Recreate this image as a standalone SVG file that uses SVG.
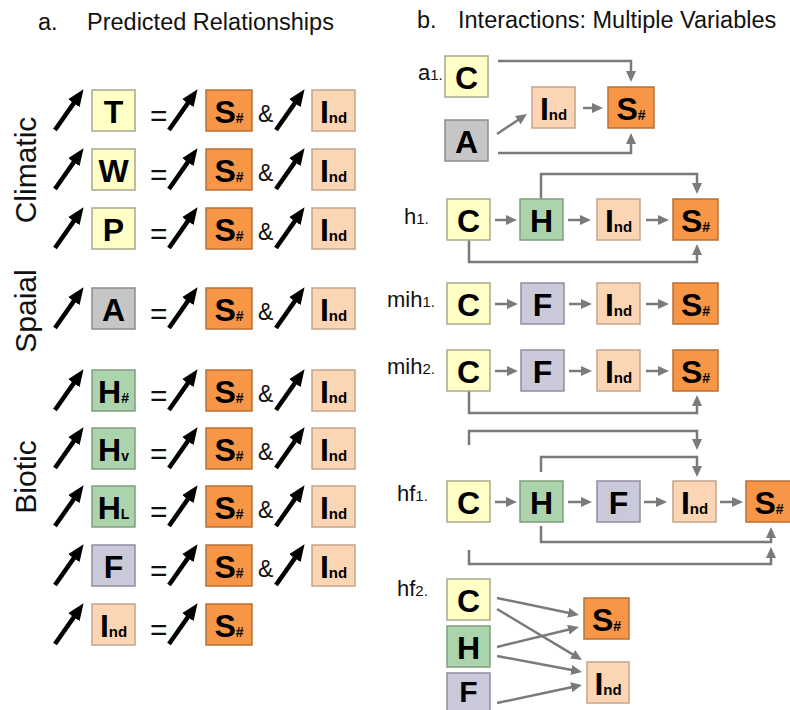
<svg xmlns="http://www.w3.org/2000/svg" width="790" height="710" viewBox="0 0 790 710">
<style>
.y{fill:#FFFFC6;stroke:#A8A88E;stroke-width:1.5}
.g{fill:#C6C6C6;stroke:#8C8C8C;stroke-width:1.5}
.o{fill:#F79646;stroke:#B96F36;stroke-width:1.5}
.p{fill:#FCD5B4;stroke:#C4A48A;stroke-width:1.5}
.h{fill:#ACD4AC;stroke:#7E9E7E;stroke-width:1.5}
.f{fill:#C9C9DA;stroke:#8E8E9E;stroke-width:1.5}
.L{font-family:"Liberation Sans",Arial,sans-serif;font-weight:bold;font-size:32px;text-anchor:middle;fill:#000}
.s{font-size:14px}
.nd{font-size:15px}
.t{font-family:"Liberation Sans",Arial,sans-serif;fill:#111}
.ti{font-size:23.5px}
.eq{font-size:30px}
.amp{font-size:23px}
.cat{font-size:30px;text-anchor:middle}
.lab{font-size:22px}
.lab tspan{font-size:15px}
.c{fill:none;stroke:#7A7A7A;stroke-width:2.5;marker-end:url(#mg)}
</style>
<defs>
<marker id="mb" markerWidth="17" markerHeight="14" refX="8" refY="7" orient="auto" markerUnits="userSpaceOnUse"><path d="M0,0 L17,7 L0,14 z" fill="#000"/></marker>
<marker id="mg" markerWidth="11" markerHeight="10" refX="6" refY="5" orient="auto" markerUnits="userSpaceOnUse"><path d="M0,0 L11,5 L0,10 z" fill="#7A7A7A"/></marker>
<path id="ba" d="M0,40 L23.4,6.6" stroke="#000" stroke-width="4.5" fill="none" marker-end="url(#mb)"/>
</defs>
<rect width="790" height="710" fill="#fff"/>

<!-- Titles -->
<text class="t ti" x="38" y="30">a.</text>
<text class="t ti" x="87" y="30">Predicted Relationships</text>
<text class="t ti" x="417" y="28">b.</text>
<text class="t ti" x="458" y="28">Interactions: Multiple Variables</text>

<!-- Category labels -->
<text class="t cat" transform="translate(36,170) rotate(-90)">Climatic</text>
<text class="t cat" transform="translate(36,311) rotate(-90)">Spaial</text>
<text class="t cat" transform="translate(36,477) rotate(-90)">Biotic</text>

<!-- Panel a rows -->
<g id="rowT">
<use href="#ba" x="55" y="90"/>
<rect class="y" x="92" y="90" width="43" height="41"/><text class="L" x="113.5" y="123">T</text>
<text class="t eq" x="150" y="126">=</text>
<use href="#ba" x="169" y="90"/>
<rect class="o" x="206" y="90" width="46" height="41"/><text class="L" x="229" y="123">S<tspan class="s">#</tspan></text>
<text class="t amp" x="258" y="122">&amp;</text>
<use href="#ba" x="276" y="90"/>
<rect class="p" x="312" y="90" width="43" height="41"/><text class="L" x="333.5" y="123">I<tspan class="nd">nd</tspan></text>
</g>
<g id="rowW">
<use href="#ba" x="55" y="149"/>
<rect class="y" x="92" y="149" width="43" height="41"/><text class="L" x="113.5" y="182">W</text>
<text class="t eq" x="150" y="185">=</text>
<use href="#ba" x="169" y="149"/>
<rect class="o" x="206" y="149" width="46" height="41"/><text class="L" x="229" y="182">S<tspan class="s">#</tspan></text>
<text class="t amp" x="258" y="181">&amp;</text>
<use href="#ba" x="276" y="149"/>
<rect class="p" x="312" y="149" width="43" height="41"/><text class="L" x="333.5" y="182">I<tspan class="nd">nd</tspan></text>
</g>
<g id="rowP">
<use href="#ba" x="55" y="208"/>
<rect class="y" x="92" y="208" width="43" height="41"/><text class="L" x="113.5" y="241">P</text>
<text class="t eq" x="150" y="244">=</text>
<use href="#ba" x="169" y="208"/>
<rect class="o" x="206" y="208" width="46" height="41"/><text class="L" x="229" y="241">S<tspan class="s">#</tspan></text>
<text class="t amp" x="258" y="240">&amp;</text>
<use href="#ba" x="276" y="208"/>
<rect class="p" x="312" y="208" width="43" height="41"/><text class="L" x="333.5" y="241">I<tspan class="nd">nd</tspan></text>
</g>
<g id="rowA">
<use href="#ba" x="55" y="288"/>
<rect class="g" x="92" y="288" width="43" height="41"/><text class="L" x="113.5" y="321">A</text>
<text class="t eq" x="150" y="324">=</text>
<use href="#ba" x="169" y="288"/>
<rect class="o" x="206" y="288" width="46" height="41"/><text class="L" x="229" y="321">S<tspan class="s">#</tspan></text>
<text class="t amp" x="258" y="320">&amp;</text>
<use href="#ba" x="276" y="288"/>
<rect class="p" x="312" y="288" width="43" height="41"/><text class="L" x="333.5" y="321">I<tspan class="nd">nd</tspan></text>
</g>
<g id="rowHn">
<use href="#ba" x="55" y="370"/>
<rect class="h" x="92" y="370" width="43" height="41"/><text class="L" x="113.5" y="403">H<tspan class="s">#</tspan></text>
<text class="t eq" x="150" y="406">=</text>
<use href="#ba" x="169" y="370"/>
<rect class="o" x="206" y="370" width="46" height="41"/><text class="L" x="229" y="403">S<tspan class="s">#</tspan></text>
<text class="t amp" x="258" y="402">&amp;</text>
<use href="#ba" x="276" y="370"/>
<rect class="p" x="312" y="370" width="43" height="41"/><text class="L" x="333.5" y="403">I<tspan class="nd">nd</tspan></text>
</g>
<g id="rowHv">
<use href="#ba" x="55" y="428"/>
<rect class="h" x="92" y="428" width="43" height="41"/><text class="L" x="113.5" y="461">H<tspan class="s">v</tspan></text>
<text class="t eq" x="150" y="464">=</text>
<use href="#ba" x="169" y="428"/>
<rect class="o" x="206" y="428" width="46" height="41"/><text class="L" x="229" y="461">S<tspan class="s">#</tspan></text>
<text class="t amp" x="258" y="460">&amp;</text>
<use href="#ba" x="276" y="428"/>
<rect class="p" x="312" y="428" width="43" height="41"/><text class="L" x="333.5" y="461">I<tspan class="nd">nd</tspan></text>
</g>
<g id="rowHL">
<use href="#ba" x="55" y="486"/>
<rect class="h" x="92" y="486" width="43" height="41"/><text class="L" x="113.5" y="519">H<tspan class="s">L</tspan></text>
<text class="t eq" x="150" y="522">=</text>
<use href="#ba" x="169" y="486"/>
<rect class="o" x="206" y="486" width="46" height="41"/><text class="L" x="229" y="519">S<tspan class="s">#</tspan></text>
<text class="t amp" x="258" y="518">&amp;</text>
<use href="#ba" x="276" y="486"/>
<rect class="p" x="312" y="486" width="43" height="41"/><text class="L" x="333.5" y="519">I<tspan class="nd">nd</tspan></text>
</g>
<g id="rowF">
<use href="#ba" x="55" y="545"/>
<rect class="f" x="92" y="545" width="43" height="41"/><text class="L" x="113.5" y="578">F</text>
<text class="t eq" x="150" y="581">=</text>
<use href="#ba" x="169" y="545"/>
<rect class="o" x="206" y="545" width="46" height="41"/><text class="L" x="229" y="578">S<tspan class="s">#</tspan></text>
<text class="t amp" x="258" y="577">&amp;</text>
<use href="#ba" x="276" y="545"/>
<rect class="p" x="312" y="545" width="43" height="41"/><text class="L" x="333.5" y="578">I<tspan class="nd">nd</tspan></text>
</g>
<g id="rowInd">
<use href="#ba" x="55" y="604"/>
<rect class="p" x="92" y="604" width="43" height="41"/><text class="L" x="113.5" y="637">I<tspan class="nd">nd</tspan></text>
<text class="t eq" x="150" y="640">=</text>
<use href="#ba" x="169" y="604"/>
<rect class="o" x="206" y="604" width="46" height="41"/><text class="L" x="229" y="637">S<tspan class="s">#</tspan></text>
</g>

<!-- Panel b labels -->
<text class="t lab" x="418" y="80">a<tspan>1.</tspan></text>
<text class="t lab" x="404" y="224">h<tspan>1.</tspan></text>
<text class="t lab" x="387" y="307">mih<tspan>1.</tspan></text>
<text class="t lab" x="387" y="374">mih<tspan>2.</tspan></text>
<text class="t lab" x="397" y="501">hf<tspan>1.</tspan></text>
<text class="t lab" x="397" y="596">hf<tspan>2.</tspan></text>

<!-- Connectors -->
<g id="connectors">
<path class="c" d="M498,61 H631 V77"/>
<path class="c" d="M498,153 H631 V138"/>
<path class="c" d="M497,134 L522.8,116.8"/>
<path class="c" d="M583,108 H598"/>

<path class="c" d="M495,220 H512"/>
<path class="c" d="M568,220 H586"/>
<path class="c" d="M646,220 H664"/>
<path class="c" d="M541,199 V174 H697 V189"/>
<path class="c" d="M469,240 V262 H697 V249"/>

<path class="c" d="M495,304 H513"/>
<path class="c" d="M569,304 H587"/>
<path class="c" d="M646,304 H664"/>

<path class="c" d="M495,371 H513"/>
<path class="c" d="M569,371 H587"/>
<path class="c" d="M646,371 H664"/>
<path class="c" d="M469,391 V413 H697 V400"/>

<path class="c" d="M469,445 V431 H697 V445"/>
<path class="c" d="M541,472 V457 H697 V472"/>
<path class="c" d="M495,502 H512"/>
<path class="c" d="M568,502 H587"/>
<path class="c" d="M644,502 H662"/>
<path class="c" d="M720,502 H738"/>
<path class="c" d="M541,526 V542 H771 V532"/>
<path class="c" d="M469,550 V564 H771 V552"/>

<path class="c" d="M497,598 L574.1,614"/>
<path class="c" d="M497,609 L577.7,657.4"/>
<path class="c" d="M497,647 L574.1,628.2"/>
<path class="c" d="M497,656 L577.1,671.1"/>
<path class="c" d="M497,703 L577.1,686"/>
</g>

<!-- a1 nodes -->
<g id="a1-C"><rect class="y" x="445" y="56" width="43" height="41"/><text class="L" x="466.5" y="89">C</text></g>
<g id="a1-A"><rect class="g" x="445" y="120" width="43" height="41"/><text class="L" x="466.5" y="153">A</text></g>
<g id="a1-I"><rect class="p" x="532" y="87" width="43" height="41"/><text class="L" x="553.5" y="120">I<tspan class="nd">nd</tspan></text></g>
<g id="a1-S"><rect class="o" x="608" y="87" width="46" height="41"/><text class="L" x="631" y="120">S<tspan class="s">#</tspan></text></g>

<!-- h1 nodes -->
<g id="h1-C"><rect class="y" x="447" y="199" width="43" height="41"/><text class="L" x="468.5" y="232">C</text></g>
<g id="h1-H"><rect class="h" x="520" y="199" width="43" height="41"/><text class="L" x="541.5" y="232">H</text></g>
<g id="h1-I"><rect class="p" x="597" y="199" width="43" height="41"/><text class="L" x="618.5" y="232">I<tspan class="nd">nd</tspan></text></g>
<g id="h1-S"><rect class="o" x="673" y="199" width="45" height="41"/><text class="L" x="695.5" y="232">S<tspan class="s">#</tspan></text></g>

<!-- mih1 nodes -->
<g id="mih1-C"><rect class="y" x="447" y="283" width="43" height="41"/><text class="L" x="468.5" y="316">C</text></g>
<g id="mih1-F"><rect class="f" x="521" y="283" width="43" height="41"/><text class="L" x="542.5" y="316">F</text></g>
<g id="mih1-I"><rect class="p" x="597" y="283" width="43" height="41"/><text class="L" x="618.5" y="316">I<tspan class="nd">nd</tspan></text></g>
<g id="mih1-S"><rect class="o" x="673" y="283" width="45" height="41"/><text class="L" x="695.5" y="316">S<tspan class="s">#</tspan></text></g>

<!-- mih2 nodes -->
<g id="mih2-C"><rect class="y" x="447" y="350" width="43" height="41"/><text class="L" x="468.5" y="383">C</text></g>
<g id="mih2-F"><rect class="f" x="521" y="350" width="43" height="41"/><text class="L" x="542.5" y="383">F</text></g>
<g id="mih2-I"><rect class="p" x="597" y="350" width="43" height="41"/><text class="L" x="618.5" y="383">I<tspan class="nd">nd</tspan></text></g>
<g id="mih2-S"><rect class="o" x="673" y="350" width="45" height="41"/><text class="L" x="695.5" y="383">S<tspan class="s">#</tspan></text></g>

<!-- hf1 nodes -->
<g id="hf1-C"><rect class="y" x="447" y="481" width="43" height="41"/><text class="L" x="468.5" y="514">C</text></g>
<g id="hf1-H"><rect class="h" x="520" y="481" width="43" height="41"/><text class="L" x="541.5" y="514">H</text></g>
<g id="hf1-F"><rect class="f" x="597" y="481" width="43" height="41"/><text class="L" x="618.5" y="514">F</text></g>
<g id="hf1-I"><rect class="p" x="673" y="481" width="43" height="41"/><text class="L" x="694.5" y="514">I<tspan class="nd">nd</tspan></text></g>
<g id="hf1-S"><rect class="o" x="746" y="481" width="46" height="41"/><text class="L" x="769" y="514">S<tspan class="s">#</tspan></text></g>

<!-- hf2 nodes -->
<g id="hf2-C"><rect class="y" x="447" y="579" width="43" height="41"/><text class="L" x="468.5" y="612">C</text></g>
<g id="hf2-H"><rect class="h" x="447" y="626" width="43" height="41"/><text class="L" x="468.5" y="659">H</text></g>
<g id="hf2-F"><rect class="f" x="447" y="673" width="43" height="41"/><text class="L" x="468.5" y="702" style="font-size:30px">F</text></g>
<g id="hf2-S"><rect class="o" x="584" y="598" width="45" height="41"/><text class="L" x="606.5" y="631">S<tspan class="s">#</tspan></text></g>
<g id="hf2-I"><rect class="p" x="587" y="662" width="42" height="41"/><text class="L" x="608" y="695">I<tspan class="nd">nd</tspan></text></g>
</svg>
